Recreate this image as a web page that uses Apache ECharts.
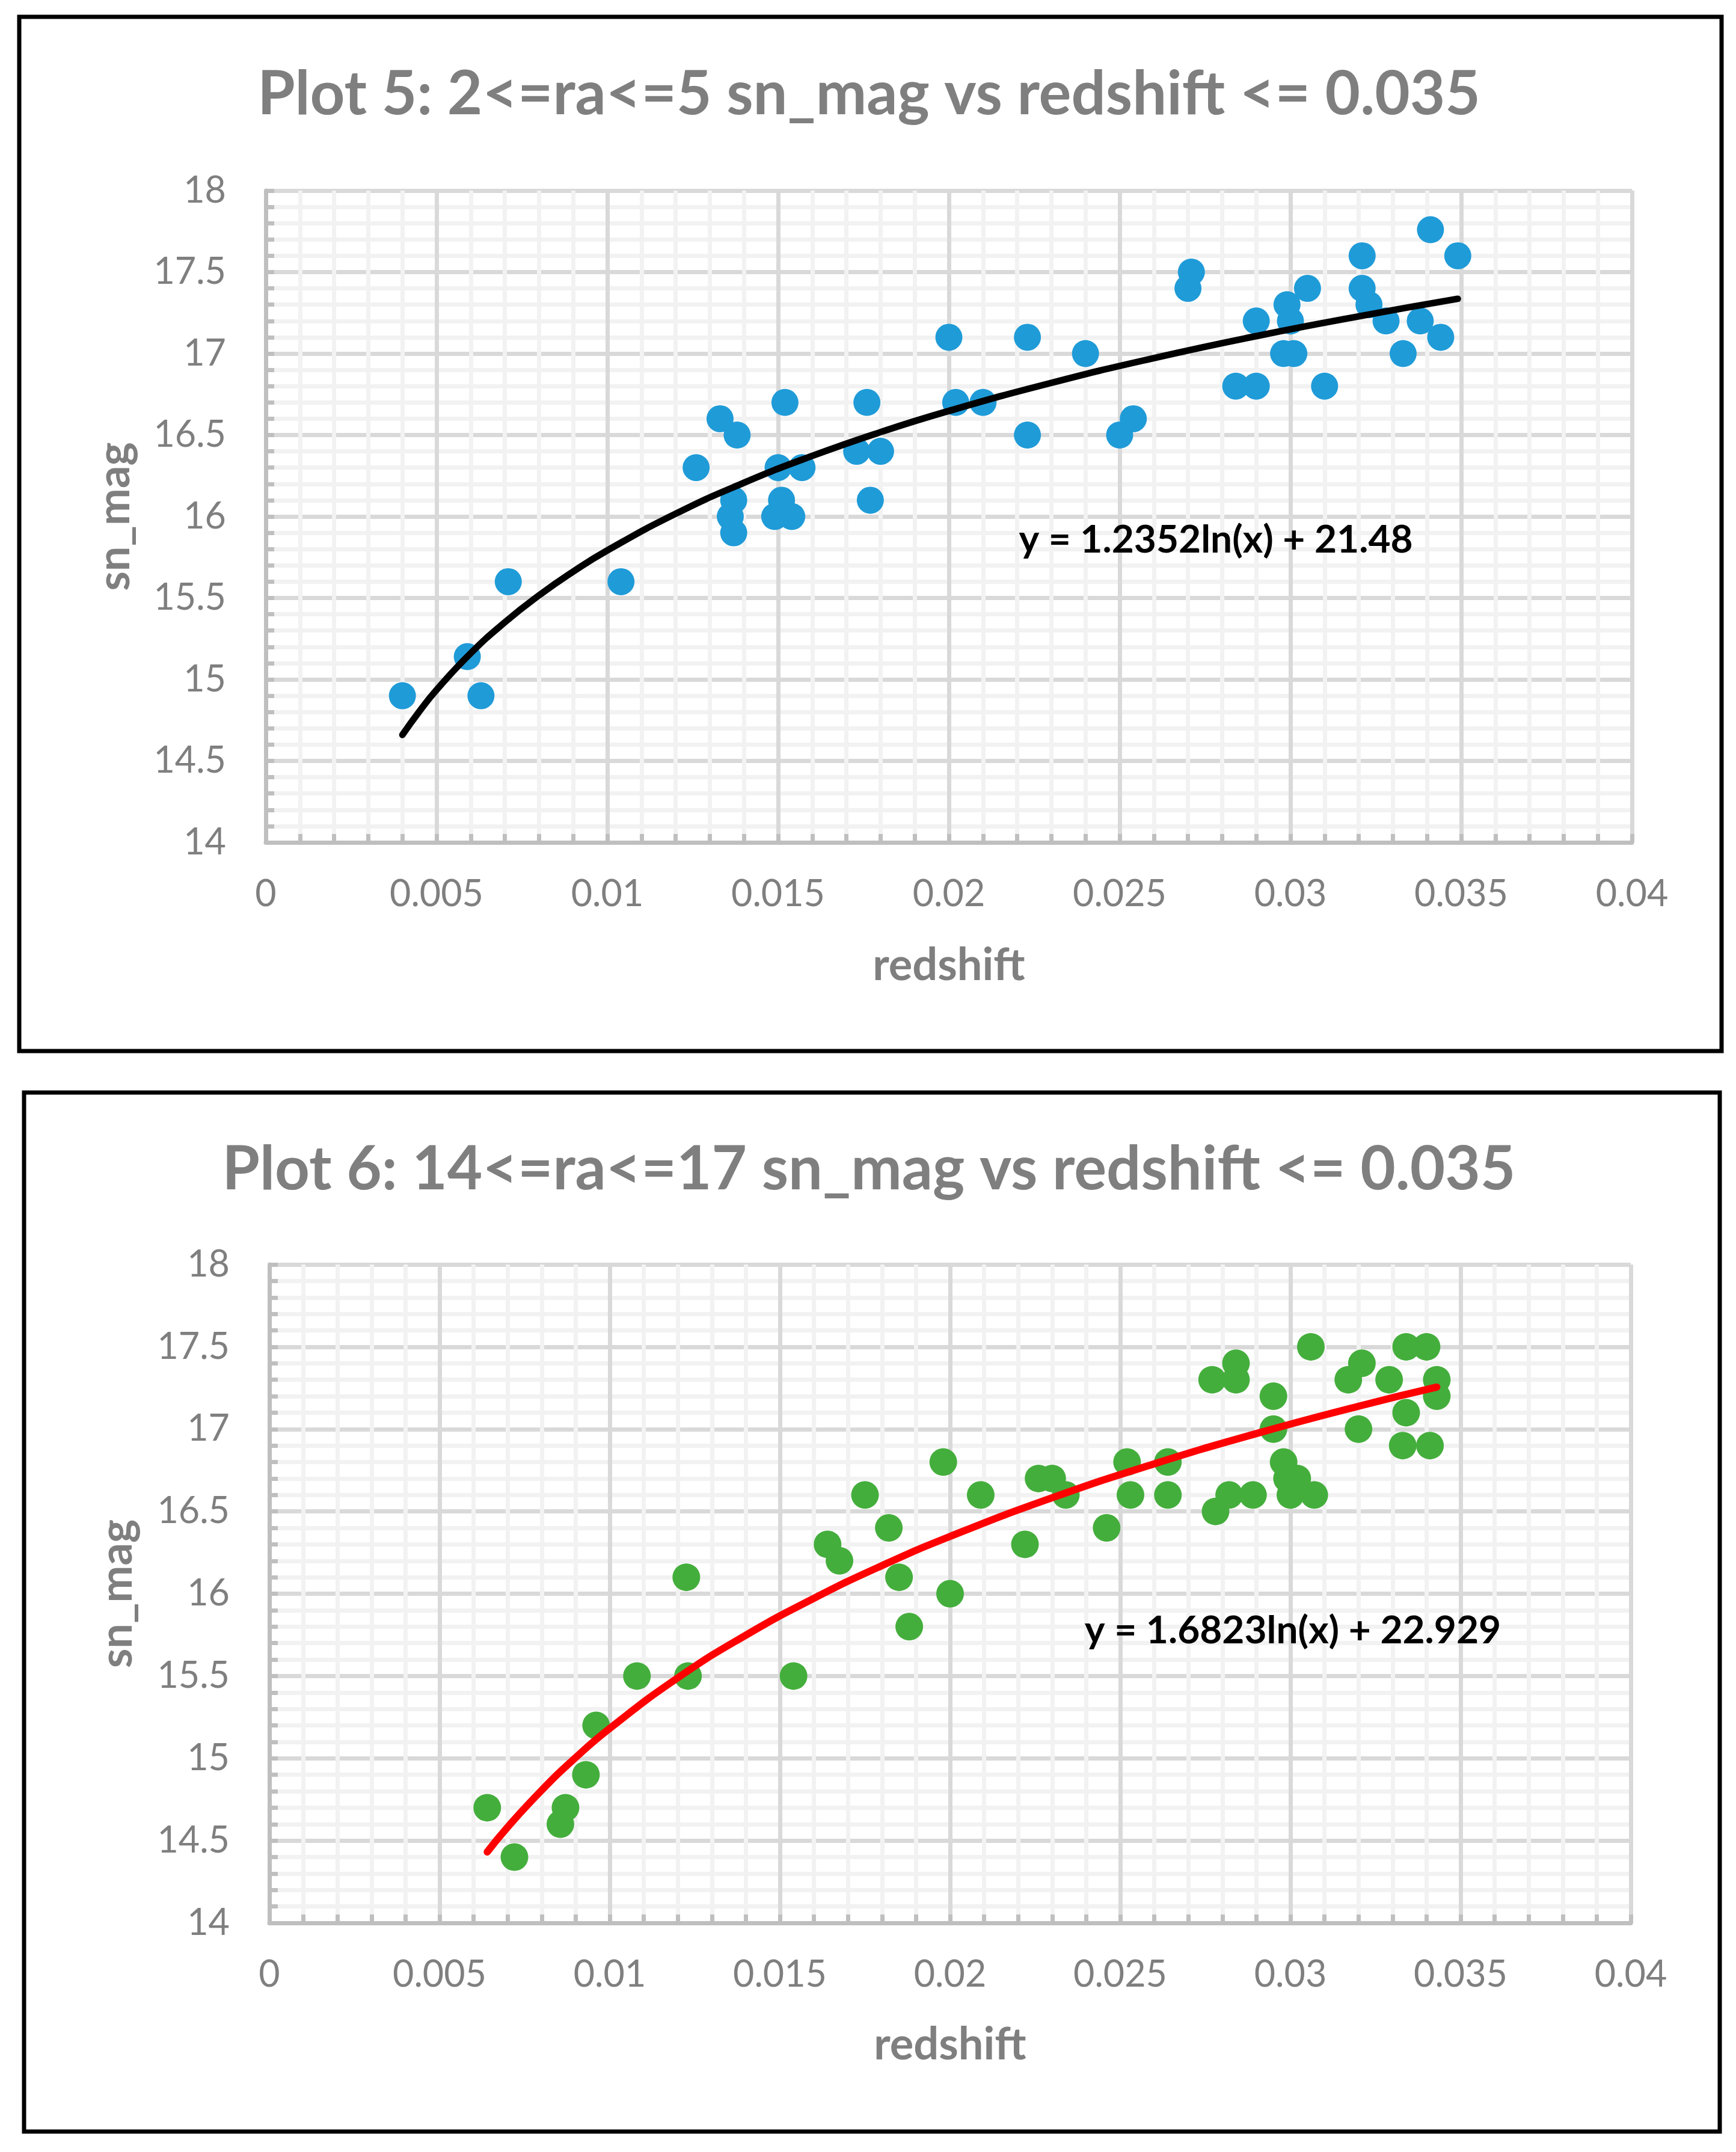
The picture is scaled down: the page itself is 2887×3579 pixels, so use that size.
<!DOCTYPE html>
<html>
<head>
<meta charset="utf-8">
<script src="https://cdn.jsdelivr.net/npm/echarts@6/dist/echarts.min.js"></script>
<style>
html,body{margin:0;padding:0;background:#fff;}
#c{width:2887px;height:3579px;}
</style>
</head>
<body>
<div id="c"></div>
<script>
// ---- Plot 5 data (2<=ra<=5) ----
const plot5X = [0.0040,0.0059,0.0063,0.0071,0.0104,0.0126,0.0133,0.0138,0.0137,0.0136,0.0137,0.0152,0.0150,0.0151,0.0149,0.0154,0.0157,0.0173,0.0176,0.0177,0.0180,0.0200,0.0202,0.0210,0.0223,0.0223,0.0240,0.0250,0.0254,0.0270,0.0271,0.0284,0.0290,0.0290,0.0299,0.0300,0.0298,0.0301,0.0305,0.0310,0.0321,0.0321,0.0323,0.0328,0.0333,0.0338,0.0341,0.0344,0.0349];
const plot5Y = [14.9,15.14,14.9,15.6,15.6,16.3,16.6,16.5,16.1,16.0,15.9,16.7,16.3,16.1,16.0,16.0,16.3,16.4,16.7,16.1,16.4,17.1,16.7,16.7,17.1,16.5,17.0,16.5,16.6,17.4,17.5,16.8,16.8,17.2,17.3,17.2,17.0,17.0,17.4,16.8,17.6,17.4,17.3,17.2,17.0,17.2,17.76,17.1,17.6];
// trendline as drawn (y = 1.2352ln(x) + 21.48)
const trend5X = [0.004,0.0045,0.005,0.006,0.007,0.008,0.009,0.010,0.012,0.014,0.016,0.018,0.020,0.023,0.026,0.029,0.032,0.0349];
const trend5Y = [14.660,14.805,14.936,15.161,15.351,15.516,15.662,15.792,16.017,16.207,16.372,16.518,16.648,16.820,16.972,17.107,17.228,17.336];
const eq5 = 'y = 1.2352ln(x) + 21.48';
const title5 = 'Plot 5: 2<=ra<=5 sn_mag vs redshift <= 0.035';

// ---- Plot 6 data (14<=ra<=17) ----
const plot6X = [0.0064,0.0072,0.00855,0.0087,0.0093,0.0096,0.0108,0.01225,0.0123,0.0154,0.0164,0.01675,0.0175,0.0182,0.0185,0.0188,0.0198,0.0200,0.0209,0.0222,0.0226,0.0230,0.0234,0.0246,0.0252,0.0253,0.0264,0.0264,0.0277,0.0278,0.0282,0.0284,0.0284,0.0289,0.0295,0.0295,0.0298,0.0299,0.0302,0.0300,0.0307,0.0306,0.0317,0.0321,0.0320,0.0329,0.0334,0.0334,0.0333,0.0340,0.0343,0.0343,0.0341];
const plot6Y = [14.7,14.4,14.6,14.7,14.9,15.2,15.5,16.1,15.5,15.5,16.3,16.2,16.6,16.4,16.1,15.8,16.8,16.0,16.6,16.3,16.7,16.7,16.6,16.4,16.8,16.6,16.8,16.6,17.3,16.5,16.6,17.4,17.3,16.6,17.2,17.0,16.8,16.7,16.7,16.6,16.6,17.5,17.3,17.4,17.0,17.3,17.5,17.1,16.9,17.5,17.3,17.2,16.9];
const trend6X = [0.0064,0.007,0.008,0.009,0.010,0.012,0.014,0.016,0.018,0.020,0.023,0.026,0.029,0.032,0.0343];
const trend6Y = [14.431,14.582,14.806,15.005,15.182,15.489,15.748,15.972,16.171,16.348,16.583,16.789,16.973,17.139,17.255];
const eq6 = 'y = 1.6823ln(x) + 22.929';
const title6 = 'Plot 6: 14<=ra<=17 sn_mag vs redshift <= 0.035';

const axisTitleX = 'redshift';
const axisTitleY = 'sn_mag';

const zip = (a, b) => a.map((v, i) => [v, b[i]]);

const GRAY = '#7f7f7f';
const FONT = 'Lato, "Open Sans", sans-serif';

function xAxisCfg(gi, gap) {
  return {
    gridIndex: gi, type: 'value', min: 0, max: 0.04, interval: 0.005,
    name: axisTitleX, nameLocation: 'middle', nameGap: gap,
    nameTextStyle: {color: GRAY, fontFamily: FONT, fontWeight: 'bold', fontSize: 74},
    axisLine: {show: true, onZero: false, lineStyle: {color: '#bfbfbf', width: 7}},
    axisTick: {show: true, inside: true, length: 14, lineStyle: {color: '#bfbfbf', width: 7}},
    minorTick: {show: true, splitNumber: 5, length: 14, lineStyle: {color: '#bfbfbf', width: 7}},
    splitLine: {show: true, lineStyle: {color: '#d9d9d9', width: 7}},
    minorSplitLine: {show: true, lineStyle: {color: '#f2f2f2', width: 7}},
    axisLabel: {color: GRAY, fontFamily: FONT, fontSize: 61, margin: 56}
  };
}
function yAxisCfg(gi, gap) {
  return {
    gridIndex: gi, type: 'value', min: 14, max: 18, interval: 0.5,
    name: axisTitleY, nameLocation: 'middle', nameGap: gap, nameRotate: 90,
    nameTextStyle: {color: GRAY, fontFamily: FONT, fontWeight: 'bold', fontSize: 74},
    axisLine: {show: true, onZero: false, lineStyle: {color: '#bfbfbf', width: 7}},
    axisTick: {show: true, inside: true, length: 14, lineStyle: {color: '#bfbfbf', width: 7}},
    minorTick: {show: true, splitNumber: 5, length: 14, lineStyle: {color: '#bfbfbf', width: 7}},
    splitLine: {show: true, lineStyle: {color: '#d9d9d9', width: 7}},
    minorSplitLine: {show: true, lineStyle: {color: '#f2f2f2', width: 7}},
    axisLabel: {color: GRAY, fontFamily: FONT, fontSize: 61, margin: 66}
  };
}

const chart = echarts.init(document.getElementById('c'), null, {renderer: 'canvas'});
chart.setOption({
  backgroundColor: '#ffffff',
  animation: false,
  grid: [
    {left: 442, top: 317, width: 2272, height: 1084},
    {left: 448, top: 2103, width: 2264, height: 1095}
  ],
  xAxis: [xAxisCfg(0, 168), xAxisCfg(1, 166)],
  yAxis: [yAxisCfg(0, 214), yAxisCfg(1, 216)],
  series: [
    {type: 'scatter', xAxisIndex: 0, yAxisIndex: 0, data: zip(plot5X, plot5Y),
     symbol: 'circle', symbolSize: 45, itemStyle: {color: '#1f9bd8', opacity: 1}, z: 3},
    {type: 'line', xAxisIndex: 0, yAxisIndex: 0, data: zip(trend5X, trend5Y),
     smooth: true, showSymbol: false, symbol: 'none',
     lineStyle: {color: '#000000', width: 11, cap: 'round'}, z: 4},
    {type: 'scatter', xAxisIndex: 1, yAxisIndex: 1, data: zip(plot6X, plot6Y),
     symbol: 'circle', symbolSize: 46, itemStyle: {color: '#44ae3c', opacity: 1}, z: 3},
    {type: 'line', xAxisIndex: 1, yAxisIndex: 1, data: zip(trend6X, trend6Y),
     smooth: true, showSymbol: false, symbol: 'none',
     lineStyle: {color: '#ff0000', width: 12, cap: 'round'}, z: 4}
  ],
  graphic: [
    {type: 'rect', shape: {x: 32, y: 28, width: 2831, height: 1720},
     style: {fill: 'none', stroke: '#000', lineWidth: 7}, z: 10},
    {type: 'rect', shape: {x: 40, y: 1817, width: 2820, height: 1728},
     style: {fill: 'none', stroke: '#000', lineWidth: 7}, z: 10},
    {type: 'text', x: 1445, y: 157,
     style: {text: title5, font: 'bold 101px ' + FONT, fill: GRAY, align: 'center', verticalAlign: 'middle'}, z: 10},
    {type: 'text', x: 1445, y: 1945,
     style: {text: title6, font: 'bold 101px ' + FONT, fill: GRAY, align: 'center', verticalAlign: 'middle'}, z: 10},
    {type: 'text', x: 2022, y: 898,
     style: {text: eq5, font: 'bold 64px ' + FONT, fill: '#000', align: 'center', verticalAlign: 'middle'}, z: 10},
    {type: 'text', x: 2150, y: 2712,
     style: {text: eq6, font: 'bold 64px ' + FONT, fill: '#000', align: 'center', verticalAlign: 'middle'}, z: 10}
  ]
});
</script>
</body>
</html>
